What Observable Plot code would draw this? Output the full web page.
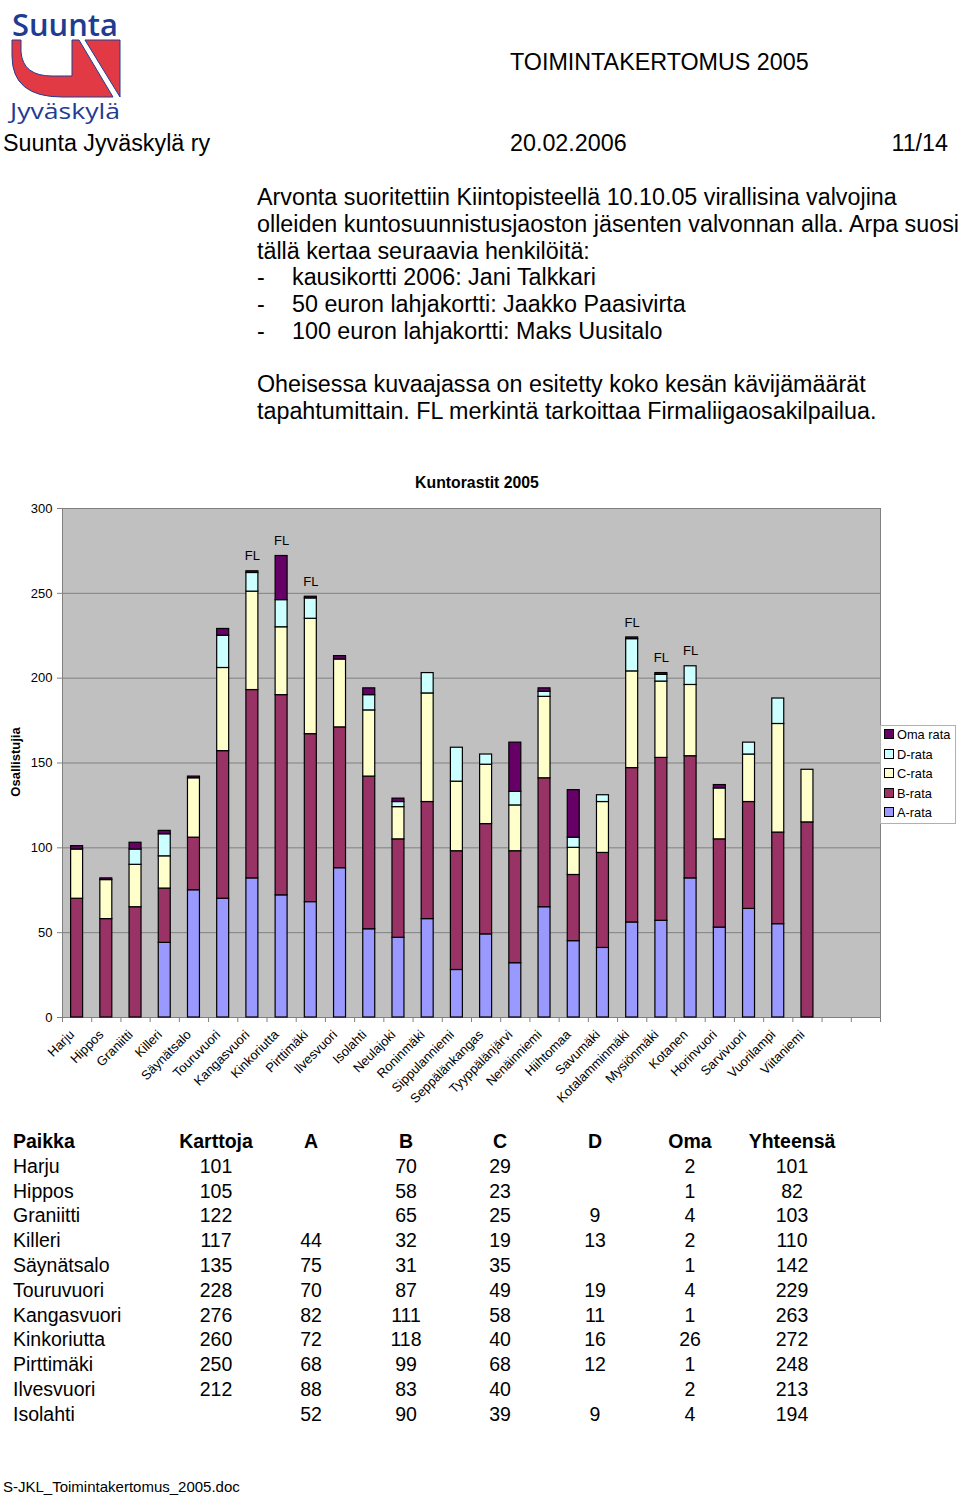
<!DOCTYPE html>
<html><head><meta charset="utf-8">
<script src="https://cdn.jsdelivr.net/npm/d3@7"></script>
<script src="https://cdn.jsdelivr.net/npm/@observablehq/plot@0.6"></script>
<style>
body{margin:0;background:#fff;font-family:"Liberation Sans",Arial,Helvetica,sans-serif;color:#000}
#page{position:relative;width:960px;height:1495px;overflow:hidden}
.abs{position:absolute;white-space:nowrap}
.big{font-size:23.3px;line-height:23px}
#para{position:absolute;left:257px;top:184px;font-size:23.3px;line-height:26.75px;white-space:nowrap}
#para .li{position:relative;padding-left:35px}
#para .li span{position:absolute;left:0}
#chartTitle{position:absolute;left:0;width:954px;text-align:center;top:474px;font-size:15.8px;font-weight:bold;line-height:18px}
#ylab{position:absolute;left:15px;top:762px;transform:translate(-50%,-50%) rotate(-90deg);font-size:13px;font-weight:bold;white-space:nowrap}
#legend{position:absolute;left:880px;top:725px;width:74px;height:97px;border:1px solid #b0b0b0;background:#fff;font-size:12.8px}
#legend .it{position:absolute;left:3px;height:16px;line-height:16px;white-space:nowrap}
#legend .sw{display:inline-block;width:8px;height:8px;border:1px solid #000;margin-right:3px;vertical-align:0px}
#chart{position:absolute;left:0;top:460px}
.cell{position:absolute;font-size:19.5px;line-height:24.8px;white-space:nowrap}
.hdr{font-weight:bold}
</style></head>
<body><div id="page">
<svg class="abs" style="left:0;top:0" width="135" height="128" viewBox="0 0 135 128">
  <text x="12" y="36" font-family="Open Sans, sans-serif" font-weight="600" font-size="31" fill="#1f3c93" textLength="106" lengthAdjust="spacingAndGlyphs">Suunta</text>
  <path d="M12,40 L21,40 L21,52 Q23,76 52,76 L72,76 L72,40 L79,40 L113,97 L62,97 Q12,97 12,56 Z" fill="#e23a44" stroke="#1f3c93" stroke-width="1"/>
  <path d="M85,40 L120,40 L120,97 Z" fill="#e23a44" stroke="#1f3c93" stroke-width="1"/>
  <text x="10" y="119" font-family="Open Sans, sans-serif" font-size="22" fill="#1f3c93" textLength="110" lengthAdjust="spacingAndGlyphs">Jyväskylä</text>
</svg>
<div class="abs big" style="left:510px;top:51px">TOIMINTAKERTOMUS 2005</div>
<div class="abs big" style="left:3px;top:132px">Suunta Jyväskylä ry</div>
<div class="abs big" style="left:510px;top:132px">20.02.2006</div>
<div class="abs big" style="right:12px;top:132px">11/14</div>
<div id="para">
<div>Arvonta suoritettiin Kiintopisteellä 10.10.05 virallisina valvojina</div>
<div>olleiden kuntosuunnistusjaoston jäsenten valvonnan alla. Arpa suosi</div>
<div>tällä kertaa seuraavia henkilöitä:</div>
<div class="li"><span>-</span>kausikortti 2006: Jani Talkkari</div>
<div class="li"><span>-</span>50 euron lahjakortti: Jaakko Paasivirta</div>
<div class="li"><span>-</span>100 euron lahjakortti: Maks Uusitalo</div>
<div>&nbsp;</div>
<div>Oheisessa kuvaajassa on esitetty koko kesän kävijämäärät</div>
<div>tapahtumittain. FL merkintä tarkoittaa Firmaliigaosakilpailua.</div>
</div>
<div id="chartTitle">Kuntorastit 2005</div>
<div id="chart"></div>
<div id="ylab">Osallistujia</div>
<div id="legend"></div>
<div id="table"></div>
<div class="abs" style="left:3px;top:1479px;font-size:15px;line-height:15px">S-JKL_Toimintakertomus_2005.doc</div>
</div>
<script>
// ---- data ----
const places = ["Harju","Hippos","Graniitti","Killeri","Säynätsalo","Touruvuori","Kangasvuori","Kinkoriutta","Pirttimäki","Ilvesvuori","Isolahti","Neulajoki","Roninmäki","Sippulanniemi","Seppälänkangas","Tyyppälänjärvi","Nenäinniemi","Hiihtomaa","Savumäki","Kotalamminmäki","Mysiönmäki","Kotanen","Horinvuori","Sarvivuori","Vuorilampi","Viitaniemi"];
const blankSlots = ["(tyhjä 1)","(tyhjä 2)"];
const series = ["A-rata","B-rata","C-rata","D-rata","Oma rata"];
const aRata   = [0,0,0,44,75,70,82,72,68,88,52,47,58,28,49,32,65,45,41,56,57,82,53,64,55,0];
const bRata   = [70,58,65,32,31,87,111,118,99,83,90,58,69,70,65,66,76,39,56,91,96,72,52,63,54,115];
const cRata   = [29,23,25,19,35,49,58,40,68,40,39,19,64,41,35,27,48,16,30,57,45,42,30,28,64,31];
const dRata   = [0,0,9,13,0,19,11,16,12,0,9,3,12,20,6,8,3,6,4,19,4,11,0,7,15,0];
const omaRata = [2,1,4,2,1,4,1,26,1,2,4,2,0,0,0,29,2,28,0,1,1,0,2,0,0,0];
const seriesColors = ["#9999ff","#993366","#ffffcc","#ccffff","#660066"];
const flPlaces = ["Kangasvuori","Kinkoriutta","Pirttimäki","Kotalamminmäki","Mysiönmäki","Kotanen"];
const flText = "FL";
const yTicks = [0,50,100,150,200,250,300];
const tableHeaders = ["Paikka","Karttoja","A","B","C","D","Oma","Yhteensä"];
const tablePlaces = places.slice(0, 11);
const karttoja = [101,105,122,117,135,228,276,260,250,212,null];

// ---- derived ----
const cols = [aRata,bRata,cRata,dRata,omaRata];
const rows = [];
series.forEach((s,si)=>places.forEach((p,pi)=>{const v=cols[si][pi]; if(v>0) rows.push({paikka:p, rata:s, value:v});}));
const totals = places.map((p,i)=>cols.reduce((a,c)=>a+c[i],0));
const flData = flPlaces.map(p=>({paikka:p, total: totals[places.indexOf(p)]}));

const W=960,H=660,ml=62,mr=80,mt=48,mb=103;
const domain=[...places,...blankSlots];
const step=(W-ml-mr)/domain.length;

const chart = Plot.plot({
  width:W,height:H,marginLeft:ml,marginRight:mr,marginTop:mt,marginBottom:mb,
  style:{fontFamily:"Liberation Sans, Arial, sans-serif",fontSize:"13px",background:"transparent",overflow:"visible"},
  x:{domain, paddingInner:0.59, paddingOuter:0.295, round:false, axis:null},
  y:{domain:[0,300], axis:null},
  color:{domain:series, range:seriesColors},
  marks:[
    Plot.frame({fill:"#c0c0c0"}),
    Plot.gridY(yTicks,{stroke:"#808080",strokeOpacity:1}),
    Plot.frame({stroke:"#808080"}),
    Plot.axisY(yTicks,{tickSize:5, tickPadding:5, stroke:"#808080", fill:"#000", fontSize:13, label:null}),
    Plot.axisX(domain,{tickSize:5, dx:-step/2, tickFormat:()=>"", stroke:"#808080", label:null}),
    Plot.axisX([domain[domain.length-1]],{tickSize:5, dx:step/2, tickFormat:()=>"", stroke:"#808080", label:null}),
    Plot.axisX(places,{tickSize:0, tickPadding:15, dx:-5, tickRotate:-45, fill:"#000", fontSize:13, label:null}),
    Plot.barY(rows, Plot.stackY({x:"paikka", y:"value", fill:"rata", stroke:"#000", strokeWidth:1.2, order:series})),
    Plot.text(flData,{x:"paikka", y:"total", text:()=>flText, dy:-15, fontSize:13})
  ]
});
document.getElementById("chart").appendChild(chart);

// legend
const leg = document.getElementById("legend");
[...series].reverse().forEach((s,i)=>{
  const d=document.createElement("div"); d.className="it"; d.style.top=(1+i*19.6)+"px";
  d.innerHTML=`<span class="sw" style="background:${seriesColors[series.indexOf(s)]}"></span>${s}`;
  leg.appendChild(d);
});

// table
const tbl = document.getElementById("table");
const colCenters=[216,311,406,500,595,690,792];
const top0=1129, pitch=24.8;
function cell(text,x,y,center,bold){
  const d=document.createElement("div"); d.className="cell"+(bold?" hdr":"");
  d.textContent=text; d.style.top=y+"px";
  if(center){d.style.left=(x-60)+"px"; d.style.width="120px"; d.style.textAlign="center";}
  else d.style.left=x+"px";
  tbl.appendChild(d);
}
tableHeaders.forEach((h,i)=> i===0? cell(h,13,top0,false,true) : cell(h,colCenters[i-1],top0,true,true));
tablePlaces.forEach((p,r)=>{
  const y=top0+(r+1)*pitch; const i=places.indexOf(p);
  cell(p,13,y,false,false);
  const vals=[karttoja[r],aRata[i],bRata[i],cRata[i],dRata[i],omaRata[i],totals[i]];
  vals.forEach((v,c)=>cell(v?String(v):"",colCenters[c],y,true,false));
});
</script>
</body></html>
